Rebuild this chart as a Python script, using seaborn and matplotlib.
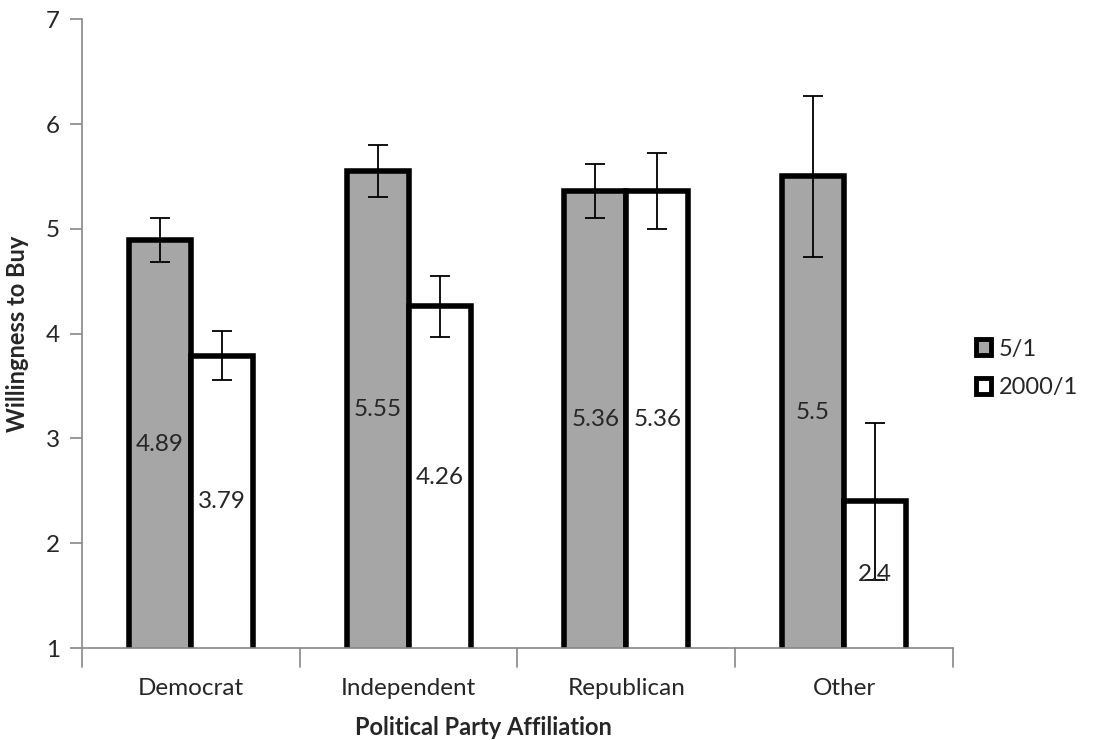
import numpy as np
import pandas as pd
import seaborn as sns
import matplotlib
matplotlib.use('Agg')
import matplotlib.pyplot as plt
from matplotlib.patches import Patch

parties = ['Democrat', 'Independent', 'Republican', 'Other']
odds = ['5/1', '2000/1']
means_5 = [4.89, 5.55, 5.36, 5.5]
means_2000 = [3.79, 4.26, 5.36, 2.4]
err_5 = [0.21, 0.25, 0.26, 0.77]
err_2000 = [0.235, 0.29, 0.36, 0.75]

df = pd.DataFrame({
    'party': parties * 2,
    'odds': [odds[0]] * 4 + [odds[1]] * 4,
    'wtb': means_5 + means_2000,
    'err': err_5 + err_2000,
})

sns.set_style('white')
plt.rcParams['font.family'] = ['Lato', 'DejaVu Sans']

fig = plt.figure(figsize=(11.01, 7.40), dpi=100)
ax = fig.add_axes([0.0745, 0.1243, 0.791, 0.8497])

palette = {'5/1': '#a6a6a6', '2000/1': 'white'}
sns.barplot(data=df, x='party', y='wtb', hue='odds', order=parties, hue_order=odds,
            palette=palette, edgecolor='black', linewidth=4, width=0.57,
            errorbar=None, legend=False, ax=ax, saturation=1)

errs = {'5/1': err_5, '2000/1': err_2000}
for cont, lvl in zip(ax.containers, odds):
    for bar, e in zip(cont, errs[lvl]):
        xc = bar.get_x() + bar.get_width() / 2
        h = bar.get_height()
        ax.errorbar(xc, h, yerr=e, color='black', linewidth=1.3, capsize=7, capthick=1.3, zorder=5)
        ax.text(xc, (h + 1) / 2, f'{h:g}', ha='center', va='center', fontsize=17.5, zorder=6)

ax.set_ylim(1, 7)
ax.set_xlim(-0.5, 3.5)
ax.set_yticks(range(1, 8))
ax.set_xticks([])
for b in np.arange(-0.5, 4.0, 1.0):
    ax.plot([b, b], [1, 0.82], color='#878787', linewidth=1.2, clip_on=False)
for i, p in enumerate(parties):
    ax.text(i, 0.618, p, ha='center', va='center', fontsize=17.5)

ax.tick_params(axis='y', left=True, length=9, width=1.2, color='#878787', labelsize=17.5, pad=7)
for s in ['top', 'right']:
    ax.spines[s].set_visible(False)
for s in ['left', 'bottom']:
    ax.spines[s].set_color('#878787')
    ax.spines[s].set_linewidth(1.2)

ax.set_ylabel('Willingness to Buy', fontsize=17, fontweight='bold', labelpad=12)
fig.text(0.4395, 0.017, 'Political Party Affiliation', ha='center', va='center',
         fontsize=17, fontweight='bold')
ax.set_xlabel('')

handles = [Patch(facecolor=palette[o], edgecolor='black', linewidth=3.5, label=o) for o in odds]
fig.legend(handles=handles, loc='center left', bbox_to_anchor=(0.878, 0.502), frameon=False,
           fontsize=17, handlelength=0.65, handleheight=0.65, handletextpad=0.3,
           labelspacing=0.75, borderaxespad=0)

fig.savefig('out.png', dpi=100)
